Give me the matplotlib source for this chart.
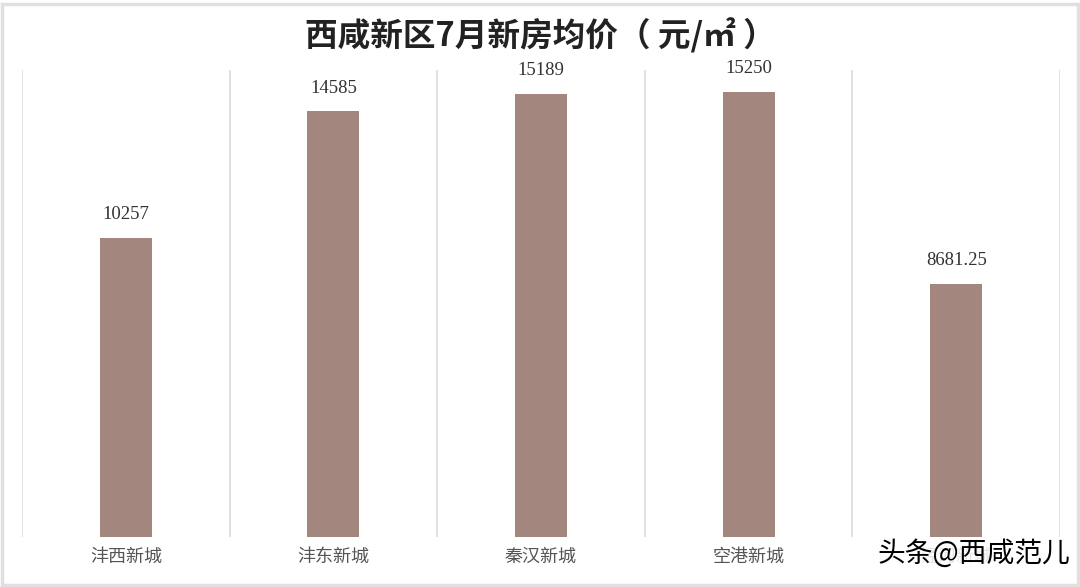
import matplotlib.pyplot as plt
from matplotlib.patches import Rectangle

plt.rcParams['font.family'] = ['Noto Sans CJK SC', 'DejaVu Sans']

# data
categories = ['沣西新城', '沣东新城', '秦汉新城', '空港新城', '泾河新城']
prices = [10257, 14585, 15189, 15250, 8681.25]
price_labels = ['10257', '14585', '15189', '15250', '8681.25']

fig = plt.figure(figsize=(10.8, 5.87), dpi=100)
ax = fig.add_axes([22/1080, 50/587, 1038/1080, 467/587])

x = range(len(categories))
ax.bar(x, prices, width=0.25, color='#a3877f', zorder=2)
for i, v in enumerate(prices):
    ax.text(i, v + 500, price_labels[i], ha='center', va='bottom',
            fontsize=13.5, family='Liberation Serif', color='#333333')

ax.set_xlim(-0.5, len(categories) - 0.5)
ax.set_ylim(0, 16000)
# vertical separators between categories
for b in range(len(categories) + 1):
    ax.axvline(b - 0.5, color='#dcdcdc', lw=1.2, zorder=1)
for s in ax.spines.values():
    s.set_visible(False)
ax.set_yticks([])
ax.set_xticks(list(x))
ax.set_xticklabels(categories, fontsize=13, color='#555555')
ax.tick_params(axis='x', length=0, pad=8)

fig.text(0.5, 1 - 36/587, '西咸新区7月新房均价（ 元/㎡ ）', ha='center', va='center',
         fontsize=23.5, fontweight='bold', color='#222222')

# watermark (covers the last category label, as in the source image)
fig.text(1070/1080, 1 - 554/587, '头条@西咸范儿', ha='right', va='center',
         fontsize=20, color='black', zorder=5,
         bbox=dict(facecolor='white', edgecolor='none', alpha=0.85, pad=0))

# light frame around the picture
fig.patches.append(Rectangle((0.002, 0.004), 0.996, 0.99, transform=fig.transFigure,
                             fill=False, edgecolor='#e0e0e0', lw=2.5))

fig.savefig('out.png', dpi=100)
